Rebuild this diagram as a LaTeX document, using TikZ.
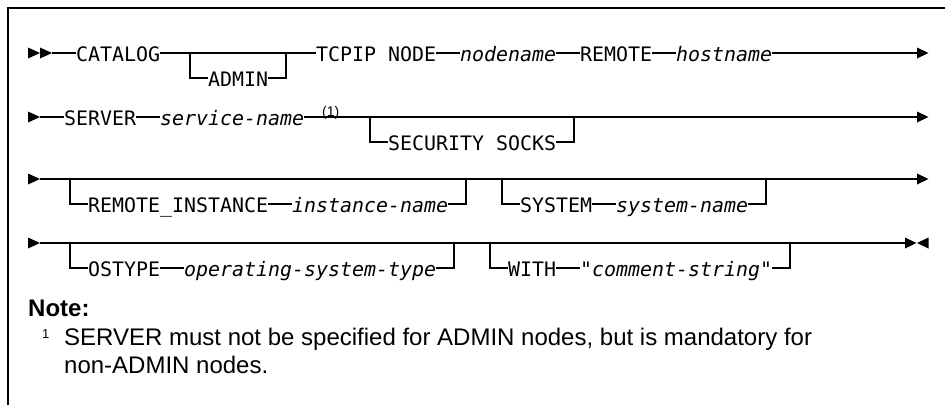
\documentclass[tikz,border=0pt]{standalone}
\usepackage{fontspec}
\setmainfont{Liberation Sans}
\setmonofont{DejaVu Sans Mono}
\tikzset{
  rr/.style={line width=1.3pt},
  frameline/.style={line width=1.8pt},
  kw/.style={font=\fontsize{19.93}{24}\selectfont\ttfamily, inner sep=0pt,
             text height=20pt, text depth=3pt, anchor=west},
  var/.style={kw, font=\fontsize{19.93}{24}\selectfont\ttfamily\itshape},
  tipfill/.style={fill=black},
  notetxt/.style={font=\fontsize{24}{28}\selectfont, inner sep=0pt, anchor=base west},
  notehead/.style={font=\fontsize{24}{28}\selectfont\bfseries, inner sep=0pt, anchor=base west},
  fnmark/.style={font=\fontsize{14}{16}\selectfont, inner sep=0pt, anchor=base west},
  supmark/.style={font=\fontsize{13}{15}\selectfont, inner sep=0pt, anchor=base west},
}
\begin{document}
\begin{tikzpicture}[x=1pt,y=-1pt]
\useasboundingbox (0,0) rectangle (945,405);
% frame
\draw[frameline] (8,405) -- (8,8) -- (945,8);

% ---------- Row 1 ----------
\fill[tipfill] (28,47.5) -- (40,53) -- (28,58.5) -- cycle;
\fill[tipfill] (40,47.5) -- (52,53) -- (40,58.5) -- cycle;
\coordinate (r1s) at (52,53);
\node[kw] (catalog) at (76,53) {CATALOG};
\coordinate (a1) at (190,53);
\coordinate (a2) at (190,78);
\node[kw] (admin) at (208,78) {ADMIN};
\coordinate (a3) at (286,78);
\coordinate (a4) at (286,53);
\node[kw] (tcpip) at (316,53) {TCPIP NODE};
\node[var] (nodename) at (460,53) {nodename};
\node[kw] (remote) at (580,53) {REMOTE};
\node[var] (hostname) at (676,53) {hostname};
\coordinate (r1e) at (917,53);
\fill[tipfill] (917,47.5) -- (928.5,53) -- (917,58.5) -- cycle;
\draw[rr] (r1s) -- (catalog.west);
\draw[rr] (catalog.east) -- (tcpip.west);
\draw[rr] (a1) -- (a2) -- (admin.west);
\draw[rr] (admin.east) -- (a3) -- (a4);
\draw[rr] (tcpip.east) -- (nodename.west);
\draw[rr] (nodename.east) -- (remote.west);
\draw[rr] (remote.east) -- (hostname.west);
\draw[rr] (hostname.east) -- (r1e);

% ---------- Row 2 ----------
\fill[tipfill] (28,111.5) -- (40,117) -- (28,122.5) -- cycle;
\coordinate (r2s) at (40,117);
\node[kw] (server) at (64,117) {SERVER};
\node[var] (servicename) at (160,117) {service-name};
\node[fnmark] (fn1) at (322,116) {(1)};
\coordinate (b1) at (370,117);
\coordinate (b2) at (370,142);
\node[kw] (socks) at (388,142) {SECURITY SOCKS};
\coordinate (b3) at (574,142);
\coordinate (b4) at (574,117);
\coordinate (r2e) at (917,117);
\fill[tipfill] (917,111.5) -- (928.5,117) -- (917,122.5) -- cycle;
\draw[rr] (r2s) -- (server.west);
\draw[rr] (server.east) -- (servicename.west);
\draw[rr] (servicename.east) -- (r2e);
\draw[rr] (b1) -- (b2) -- (socks.west);
\draw[rr] (socks.east) -- (b3) -- (b4);

% ---------- Row 3 ----------
\fill[tipfill] (28,173.5) -- (40,179) -- (28,184.5) -- cycle;
\coordinate (r3s) at (40,179);
\coordinate (c1) at (70,179);
\coordinate (c2) at (70,204);
\node[kw] (rinst) at (88,204) {REMOTE\_INSTANCE};
\node[var] (instname) at (292,204) {instance-name};
\coordinate (c3) at (466,204);
\coordinate (c4) at (466,179);
\coordinate (d1) at (502,179);
\coordinate (d2) at (502,204);
\node[kw] (system) at (520,204) {SYSTEM};
\node[var] (sysname) at (616,204) {system-name};
\coordinate (d3) at (766,204);
\coordinate (d4) at (766,179);
\coordinate (r3e) at (917,179);
\fill[tipfill] (917,173.5) -- (928.5,179) -- (917,184.5) -- cycle;
\draw[rr] (r3s) -- (r3e);
\draw[rr] (c1) -- (c2) -- (rinst.west);
\draw[rr] (rinst.east) -- (instname.west);
\draw[rr] (instname.east) -- (c3) -- (c4);
\draw[rr] (d1) -- (d2) -- (system.west);
\draw[rr] (system.east) -- (sysname.west);
\draw[rr] (sysname.east) -- (d3) -- (d4);

% ---------- Row 4 ----------
\fill[tipfill] (28,237.5) -- (40,243) -- (28,248.5) -- cycle;
\coordinate (r4s) at (40,243);
\coordinate (e1) at (70,243);
\coordinate (e2) at (70,268);
\node[kw] (ostype) at (88,268) {OSTYPE};
\node[var] (ostypename) at (184,268) {operating-system-type};
\coordinate (e3) at (454,268);
\coordinate (e4) at (454,243);
\coordinate (f1) at (490,243);
\coordinate (f2) at (490,268);
\node[kw] (with) at (508,268) {WITH};
\node[var] (comment) at (580,268) {"comment-string"};
\coordinate (f3) at (790,268);
\coordinate (f4) at (790,243);
\coordinate (r4e) at (905,243);
\fill[tipfill] (905,237.5) -- (916.5,243) -- (905,248.5) -- cycle;
\fill[tipfill] (928.5,237.5) -- (917,243) -- (928.5,248.5) -- cycle;
\draw[rr] (r4s) -- (r4e);
\draw[rr] (e1) -- (e2) -- (ostype.west);
\draw[rr] (ostype.east) -- (ostypename.west);
\draw[rr] (ostypename.east) -- (e3) -- (e4);
\draw[rr] (f1) -- (f2) -- (with.west);
\draw[rr] (with.east) -- (comment.west);
\draw[rr] (comment.east) -- (f3) -- (f4);

% ---------- Note ----------
\node[notehead] (note) at (28,316) {Note:};
\node[supmark] (n1) at (42,338) {1};
\node[notetxt] (nl1) at (64,345) {SERVER must not be specified for ADMIN nodes, but is mandatory for};
\node[notetxt] (nl2) at (64,373) {non-ADMIN nodes.};
\end{tikzpicture}
\end{document}
